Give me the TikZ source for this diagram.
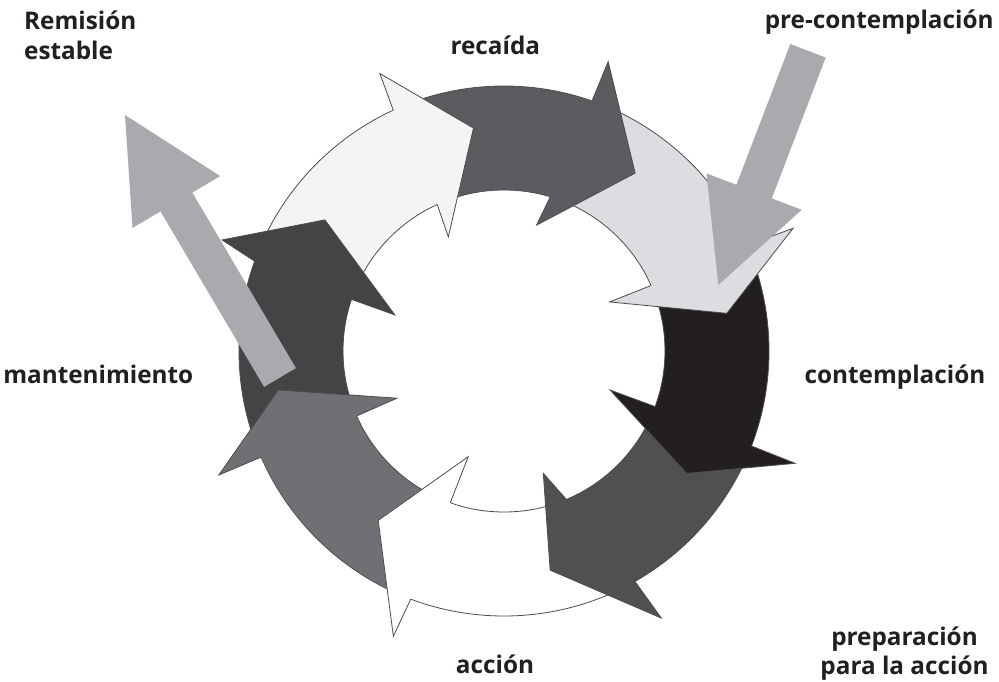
\documentclass[tikz,border=0pt]{standalone}
\usepackage{fontspec}
\setmainfont{Open Sans}
\definecolor{cA}{HTML}{F4F4F4}
\definecolor{cB}{HTML}{5C5C60}
\definecolor{cC}{HTML}{DCDDE0}
\definecolor{cD}{HTML}{231F20}
\definecolor{cE}{HTML}{505053}
\definecolor{cF}{HTML}{FFFFFF}
\definecolor{cG}{HTML}{6F7074}
\definecolor{cH}{HTML}{444447}
\definecolor{cS}{HTML}{A9AAAE}
\definecolor{txt}{HTML}{231F20}
\newcommand\RingOut{265}
\newcommand\RingIn{161}
\newcommand\RingOutX{264.3}
\newcommand\RingInX{161.7}
% body: color, start outer angle, start inner angle, end outer angle, end inner angle
\newcommand\ringbody[5]{%
  \fill[#1] (#2:\RingOut) arc[start angle=#2, end angle=#4, radius=\RingOut]
    -- (#5:\RingIn) arc[start angle=#5, end angle=#3, radius=\RingIn] -- cycle;}
% head: color, back outer angle, outer barb angle, radius, tip angle, radius, inner barb angle, radius, back inner angle
\newcommand\ringhead[9]{%
  \fill[#1] (#2+3:\RingOutX) arc[start angle=#2+3, end angle=#2, radius=\RingOutX]
    -- (#2:\RingOut) -- (#3:#4) -- (#5:#6) -- (#7:#8) -- (#9:\RingIn) -- (#9:\RingInX)
    arc[start angle=#9, end angle=#9+3, radius=\RingInX] -- cycle;
  \draw[outl] (#2:\RingOut) -- (#3:#4) -- (#5:#6) -- (#7:#8) -- (#9:\RingIn);}
\begin{document}
\begin{tikzpicture}[x=1pt,y=1pt,
  outl/.style={draw=black!70, line width=0.8pt, line join=miter},
  lbl/.style={font=\fontsize{24.3}{29.5}\selectfont\bfseries, text=txt, inner sep=0pt}]
\useasboundingbox (0,0) rectangle (999,681);
\fill[white] (0,0) rectangle (999,681);
\begin{scope}[shift={(504,330)}]
  % bodies
  \ringbody{cA}{160.2}{161.3}{114.7}{114.5}
  \ringbody{cB}{114.7}{114.5}{70.6}{73.3}
  \ringbody{cC}{70.6}{73.3}{23.5}{24.0}
  \ringbody{cD}{23.5}{24.0}{-21.0}{-20.2}
  \ringbody{cE}{-21.0}{-20.2}{-60.4}{-67.2}
  \ringbody{cF}{-60.4}{-67.2}{-110.6}{-109.5}
  \ringbody{cG}{-110.6}{-109.5}{-156.4}{-156.2}
  \ringbody{cH}{-156.4}{-156.2}{-199.8}{-198.7}
  % ring outlines
  \draw[outl] (0,0) circle[radius=\RingOut];
  \draw[outl] (0,0) circle[radius=\RingIn];
  % heads
  \ringhead{cA}{114.7}{114.1}{304}{97.8}{225}{116.0}{127}{114.5}
  \ringhead{cB}{70.6}{70.2}{307.5}{53.6}{221}{75.5}{130}{73.3}
  \ringhead{cC}{23.5}{23.0}{314}{9.6}{226}{24.9}{116.5}{24.0}
  \ringhead{cD}{-21.0}{-21.1}{312}{-33.8}{220}{-20.2}{113}{-20.2}
  \ringhead{cE}{-60.4}{-59.5}{310}{-78.1}{224}{-72.2}{128.5}{-67.2}
  \ringhead{cF}{-110.6}{-111.2}{306}{-126.6}{211}{-108.7}{111.6}{-109.5}
  \ringhead{cG}{-156.4}{-156.5}{311}{-170.2}{229}{-156.2}{117}{-156.2}
  \ringhead{cH}{160.2}{158.5}{303}{143.8}{222}{161.7}{115}{161.3}
\end{scope}
% straight arrows
\fill[cS] (790.3,637) -- (825.7,623.4) -- (771.8,482.6) -- (801.7,471.2)
  -- (718.3,396) -- (706.5,507.6) -- (736.4,496.2) -- cycle;
\fill[cS] (264.1,294.1) -- (160.5,469.6) -- (132.5,453.1) -- (125,566)
  -- (220.3,504.9) -- (192.3,488.4) -- (295.9,312.9) -- cycle;
% labels
\node[lbl, align=left, anchor=north west] (remision) at (24,670.2) {Remisión\\estable};
\node[lbl, anchor=base] (recaida) at (495.3,626) {recaída};
\node[lbl, anchor=base] (precont) at (879.2,652.7) {pre-contemplación};
\node[lbl, anchor=base] (mant) at (98.3,297) {mantenimiento};
\node[lbl, anchor=base] (cont) at (895,297) {contemplación};
\node[lbl, anchor=base] (accion) at (495,8) {acción};
\node[lbl, align=center, anchor=north] (prep) at (904.5,54.5) {preparación\\para la acción};
\end{tikzpicture}
\end{document}
